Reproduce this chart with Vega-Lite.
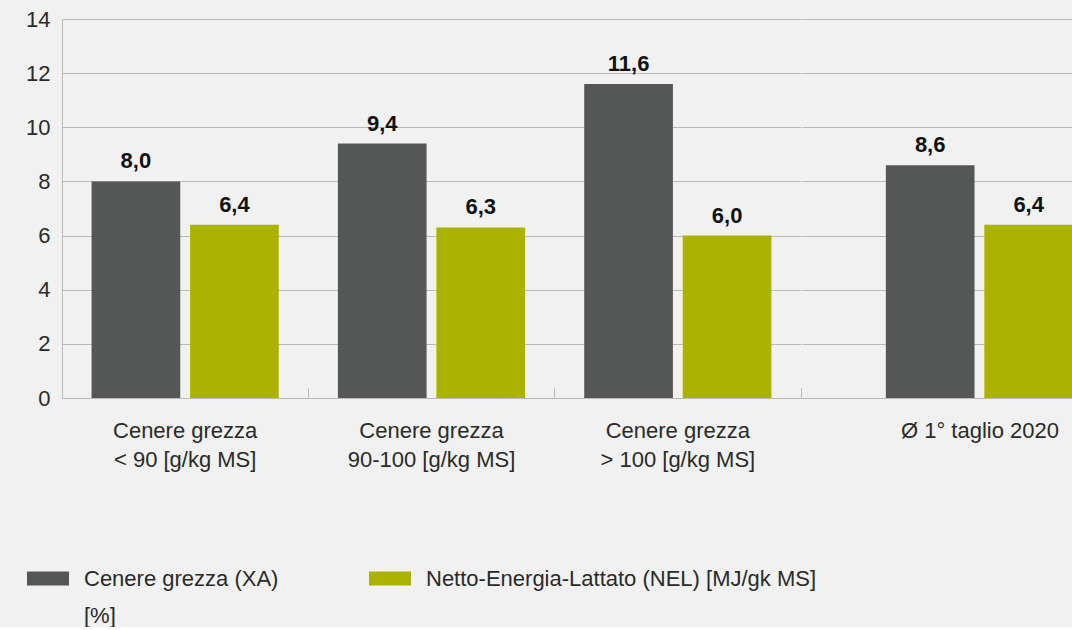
{
  "$schema": "https://vega.github.io/schema/vega-lite/v6.json",
  "background": "#f0f1f0",
  "padding": {"left": 0, "top": 8, "right": 0, "bottom": 0},
  "spacing": 0,
  "config": {
    "font": "Liberation Sans",
    "view": {"stroke": null},
    "style": {"guide-label": {"lineHeight": 37}},
    "axis": {"labelFont": "Liberation Sans", "labelFontSize": 22, "labelColor": "#2a2a2a", "domainColor": "#b9b9b9", "gridColor": "#b9b9b9", "tickColor": "#b9b9b9", "title": null}
  },
  "data": {"values": [
    {"group": "Cenere grezza < 90 [g/kg MS]", "series": "Cenere grezza (XA) [%]", "value": 8.0},
    {"group": "Cenere grezza < 90 [g/kg MS]", "series": "Netto-Energia-Lattato (NEL) [MJ/gk MS]", "value": 6.4},
    {"group": "Cenere grezza 90-100 [g/kg MS]", "series": "Cenere grezza (XA) [%]", "value": 9.4},
    {"group": "Cenere grezza 90-100 [g/kg MS]", "series": "Netto-Energia-Lattato (NEL) [MJ/gk MS]", "value": 6.3},
    {"group": "Cenere grezza > 100 [g/kg MS]", "series": "Cenere grezza (XA) [%]", "value": 11.6},
    {"group": "Cenere grezza > 100 [g/kg MS]", "series": "Netto-Energia-Lattato (NEL) [MJ/gk MS]", "value": 6.0},
    {"group": "Ø 1° taglio 2020", "series": "Cenere grezza (XA) [%]", "value": 8.6},
    {"group": "Ø 1° taglio 2020", "series": "Netto-Energia-Lattato (NEL) [MJ/gk MS]", "value": 6.4}
  ]},
  "transform": [{"calculate": "replace(format(datum.value, '.1f'), '.', ',')", "as": "lbl"}],
  "resolve": {"scale": {"color": "shared", "x": "independent", "xOffset": "independent"}},
  "hconcat": [
    {
      "width": 739,
      "height": 379,
      "transform": [{"filter": "datum.group != 'Ø 1° taglio 2020'"}],
      "encoding": {
        "x": {"field": "group", "type": "nominal", "sort": null,
          "scale": {"paddingInner": 0, "paddingOuter": 0},
          "axis": {"labelAngle": 0, "bandPosition": 1, "ticks": true, "tickSize": -10, "labelPadding": 32, "labelLineHeight": 29, "labelBaseline": "top",
            "labelExpr": "['Cenere grezza', slice(datum.label, 14)]"}},
        "xOffset": {"field": "series", "type": "nominal", "scale": {"paddingInner": 0.1, "paddingOuter": 0.3}},
        "y": {"field": "value", "type": "quantitative", "scale": {"domain": [0, 14]},
          "axis": {"values": [0, 2, 4, 6, 8, 10, 12, 14], "ticks": false, "labelPadding": 12, "minExtent": 62, "maxExtent": 62, "grid": true}}
      },
      "layer": [
        {"mark": {"type": "bar"},
          "encoding": {"color": {"field": "series", "type": "nominal",
            "scale": {"domain": ["Cenere grezza (XA) [%]", "Netto-Energia-Lattato (NEL) [MJ/gk MS]"], "range": ["#555756", "#aab400"]},
            "legend": {"orient": "none", "legendX": -35, "legendY": 529, "direction": "horizontal", "columns": 2, "title": null,
              "symbolType": "M-1,0.12H1V0.786H-1Z", "symbolSize": 1764, "symbolStrokeWidth": 0, "symbolOpacity": 1,
              "labelFont": "Liberation Sans", "labelFontSize": 22, "labelColor": "#2a2a2a", "labelBaseline": "top", "labelOffset": 15, "columnPadding": 90, "labelLimit": 500,
              "labelExpr": "datum.label == 'Cenere grezza (XA) [%]' ? ['Cenere grezza (XA)', '[%]'] : [datum.label, ' ']"}}}},
        {"mark": {"type": "text", "dy": -13, "fontSize": 22, "fontWeight": "bold", "color": "#111111", "baseline": "alphabetic"},
          "encoding": {"text": {"field": "lbl"}}}
      ]
    },
    {
      "width": 271,
      "height": 379,
      "transform": [{"filter": "datum.group == 'Ø 1° taglio 2020'"}],
      "encoding": {
        "x": {"field": "group", "type": "nominal", "sort": null,
          "scale": {"paddingInner": 0, "paddingOuter": 0.1273, "align": 1},
          "axis": {"labelAngle": 0, "bandPosition": 1, "ticks": true, "tickSize": -10, "tickColor": "transparent", "labelPadding": 32, "labelLineHeight": 29, "labelBaseline": "top", "labelOffset": 15}},
        "xOffset": {"field": "series", "type": "nominal", "scale": {"paddingInner": 0.1, "paddingOuter": 0.1465, "align": 1}},
        "y": {"field": "value", "type": "quantitative", "scale": {"domain": [0, 14]},
          "axis": {"values": [0, 2, 4, 6, 8, 10, 12, 14], "ticks": false, "labels": false, "domain": false, "grid": true, "minExtent": 0, "maxExtent": 0}}
      },
      "layer": [
        {"mark": {"type": "bar"},
          "encoding": {"color": {"field": "series", "type": "nominal"}}},
        {"mark": {"type": "text", "dy": -13, "fontSize": 22, "fontWeight": "bold", "color": "#111111", "baseline": "alphabetic"},
          "encoding": {"text": {"field": "lbl"}}}
      ]
    }
  ]
}
